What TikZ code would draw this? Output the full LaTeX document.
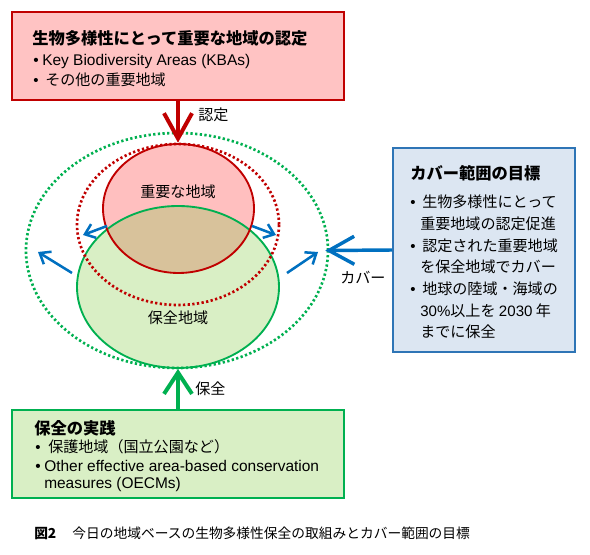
\documentclass[tikz,border=0pt]{standalone}
\usepackage{fontspec}
\setmainfont{Liberation Sans}
\newfontfamily\jp{Noto Sans CJK JP}
\usetikzlibrary{positioning, arrows.meta, shapes.geometric}
\usepackage{xcolor}
\definecolor{kbared}{HTML}{C00000}
\definecolor{kbapink}{HTML}{FFC3C3}
\definecolor{impfill}{HTML}{FFBFBF}
\definecolor{mixfill}{HTML}{D8C29B}
\definecolor{pagreen}{HTML}{00B050}
\definecolor{pafill}{HTML}{D9EFC5}
\definecolor{tgblue}{HTML}{2E75B6}
\definecolor{tgfill}{HTML}{DCE6F2}
\definecolor{arblue}{HTML}{0070C0}
\tikzset{
    redbox/.style={
        draw=kbared,
        line width=1.5pt,
        fill=kbapink,
        minimum width=249pt,
        minimum height=66pt,
        inner sep=0pt
    },
    greenbox/.style={
        draw=pagreen,
        line width=1.5pt,
        fill=pafill,
        minimum width=249pt,
        minimum height=66pt,
        inner sep=0pt
    },
    bluebox/.style={
        draw=tgblue,
        line width=1.5pt,
        fill=tgfill,
        minimum width=136.5pt,
        minimum height=153pt,
        inner sep=0pt
    },
    txt/.style={
        anchor=west,
        inner sep=0pt,
        font=\jp\fontsize{11.3}{13}\selectfont
    },
    lat/.style={
        anchor=west,
        inner sep=0pt,
        font=\rmfamily\fontsize{11.6}{13}\selectfont
    },
    head/.style={
        anchor=west,
        inner sep=0pt,
        font=\jp\bfseries\fontsize{12.2}{14}\selectfont
    },
    area/.style={
        ellipse,
        inner sep=0pt,
        line width=1.4pt
    },
    dotline/.style={
        line width=2pt,
        dash pattern=on 1.7pt off 1.8pt
    },
    bigarrow/.style={
        line width=3pt,
        -{Straight Barb[length=19pt,width=21pt]}
    },
    smallarrow/.style={
        arblue,
        line width=1.9pt,
        -{Straight Barb[length=7pt,width=11pt]}
    }
}
\newcommand{\bul}[1]{\makebox[#1][l]{\rmfamily •}}

\begin{document}
\begin{tikzpicture}[x=0.75pt,y=-0.75pt]
    \useasboundingbox (0,0) rectangle (590,555);

    % boxes
    \node[redbox] (recog) at (178,56) {};
    \node[greenbox] (practice) at (178,454) {};
    \node[bluebox] (target) at (484,250) {};

    % filled areas
    \fill[pafill] (178,287) ellipse [x radius=101, y radius=81];
    \fill[impfill] (178.5,208.5) ellipse [x radius=75.5, y radius=64.5];
    \begin{scope}
        \clip (178,287) ellipse [x radius=101, y radius=81];
        \fill[mixfill] (178.5,208.5) ellipse [x radius=75.5, y radius=64.5];
    \end{scope}

    \node[area, draw=pagreen, minimum width=151.5pt, minimum height=121.5pt] (prot) at (178,287) {};
    \node[area, draw=kbared, minimum width=113.25pt, minimum height=96.75pt] (imp) at (178.5,208.5) {};
    \node[area, draw=kbared, dotline, minimum width=151.5pt, minimum height=120.75pt] (impout) at (178,224.5) {};
    \node[area, draw=pagreen, dotline, minimum width=226.5pt, minimum height=176.25pt] (protout) at (177,250.5) {};

    % arrows
    \draw[bigarrow, kbared] (recog.south) -- (impout.north);
    \draw[bigarrow, pagreen, -{Straight Barb[length=16pt,width=21pt]}] (practice.north) -- (prot.south);
    \draw[bigarrow, arblue, line width=2.6pt, shorten >=-3pt] (target.west) -- (protout.east);

    \coordinate (il1) at (107,226);
    \coordinate (il2) at (83,235);
    \coordinate (ir1) at (252,226);
    \coordinate (ir2) at (276,235);
    \coordinate (ol1) at (72,273);
    \coordinate (ol2) at (38,252);
    \coordinate (or1) at (287,273);
    \coordinate (or2) at (318,252);
    \draw[smallarrow] (il1) -- (il2);
    \draw[smallarrow] (ir1) -- (ir2);
    \draw[smallarrow] (ol1) -- (ol2);
    \draw[smallarrow] (or1) -- (or2);

    % texts
    \node[head] (rt) at (32,38) {生物多様性にとって重要な地域の認定};
    \node[lat] (r1) at (33,62) {\bul{6.75pt}Key Biodiversity Areas (KBAs)};
    \node[txt] (r2) at (33,80) {\bul{9pt}その他の重要地域};

    \node[txt] (lrec) at (198,115) {認定};
    \node[txt, anchor=center] (limp) at (178,192) {重要な地域};
    \node[txt, anchor=center] (lprot) at (178,318) {保全地域};
    \node[txt] (lpra) at (195,389) {保全};
    \node[txt] (lcov) at (340,278) {カバー};

    \node[head] (bt) at (410,173) {カバー範囲の目標};
    \node[txt] (b1) at (410,202) {\bul{9pt}生物多様性にとって};
    \node[txt] (b2) at (420,224) {重要地域の認定促進};
    \node[txt] (b3) at (410,246) {\bul{9pt}認定された重要地域};
    \node[txt] (b4) at (420,267) {を保全地域でカバー};
    \node[txt] (b5) at (410,289) {\bul{9pt}地球の陸域・海域の};
    \node[txt] (b6) at (420,311) {{\rmfamily 30\%}以上を {\rmfamily 2030} 年};
    \node[txt] (b7) at (420,332) {までに保全};

    \node[head] (gt) at (34,428) {保全の実践};
    \node[txt] (g1) at (35,447) {\bul{9.75pt}保護地域（国立公園など）};
    \node[lat] (g2) at (35,466) {\bul{6.75pt}Other effective area-based conservation};
    \node[lat] (g3) at (44,485) {measures (OECMs)};

    \node[txt, font=\jp\fontsize{10.3}{12}\selectfont] (cap) at (34,533) {{\bfseries 図2}\hspace{12pt}今日の地域ベースの生物多様性保全の取組みとカバー範囲の目標};

\end{tikzpicture}
\end{document}
